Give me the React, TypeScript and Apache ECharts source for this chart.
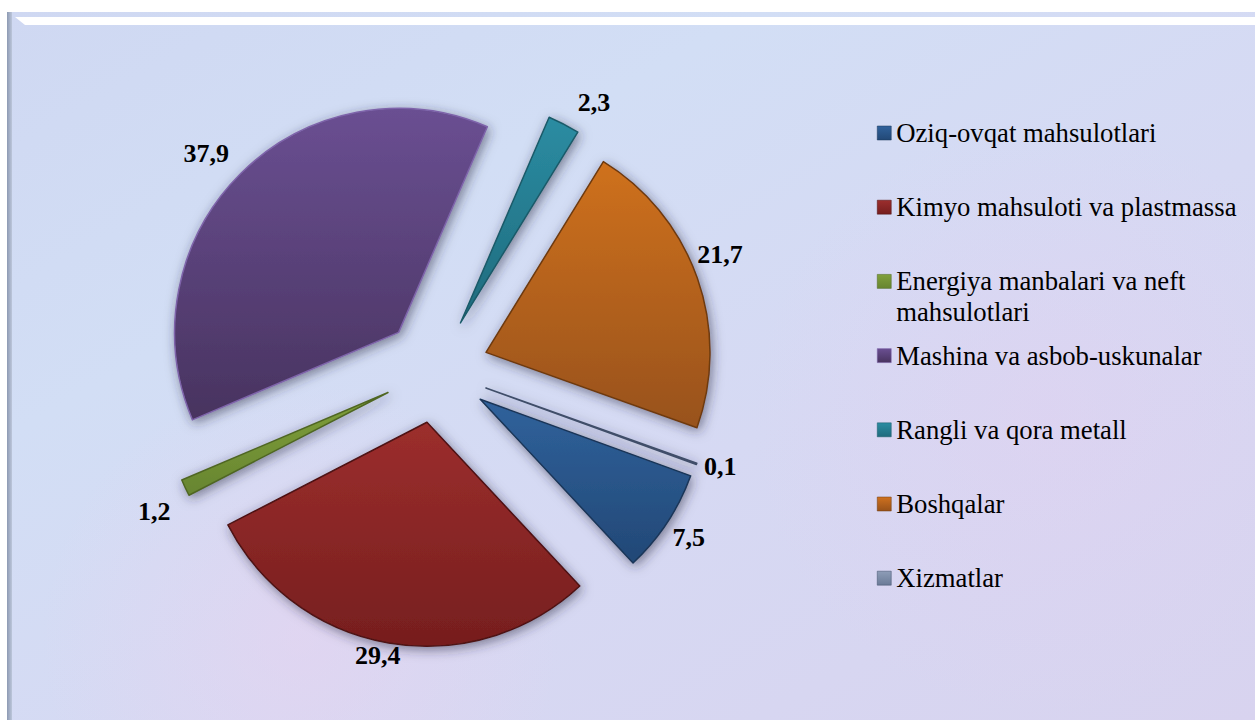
import React, { useEffect, useRef } from "react";
import * as echarts from "echarts";

// ---- data ----
const categories = [
  "Oziq-ovqat mahsulotlari",
  "Kimyo mahsuloti va plastmassa",
  "Energiya manbalari va neft mahsulotlari",
  "Mashina va asbob-uskunalar",
  "Rangli va qora metall",
  "Boshqalar",
  "Xizmatlar",
];
const legendLabels = [
  "Oziq-ovqat mahsulotlari",
  "Kimyo mahsuloti va plastmassa",
  "Energiya manbalari va neft\nmahsulotlari",
  "Mashina va asbob-uskunalar",
  "Rangli va qora metall",
  "Boshqalar",
  "Xizmatlar",
];
const shares = [7.5, 29.4, 1.2, 37.9, 2.3, 21.7, 0.1];

// ---- styles ----
const colorTop = ["#30629c", "#9c2e2d", "#80a03b", "#6a4f92", "#2b8ca2", "#cf711f", "#8e9db7"];
const colorBottom = ["#224876", "#761e1e", "#678530", "#48335f", "#1f6b7d", "#98521a", "#6b7b97"];
const borderCols = ["#1a3658", "#4e1212", "#4f6623", "#7e64aa", "#1a5a69", "#6e3a0f", "#3f4e69"];
// label nudges (label line lengths, line hidden)
const labelLen = [27, 13, 55, 28, 24, 71, 9];
const labelLen2 = [-22, -19, -40, -13, -2, -72, -6];

const SERIF = "'Liberation Serif', 'Times New Roman', serif";
const LEGEND_FIRST = 133;
const LEGEND_STEP = 74.2;
const LEGEND_LH = 31;

export default function App() {
  const ref = useRef<HTMLDivElement>(null);

  useEffect(() => {
    if (!ref.current) return;
    const chart = echarts.init(ref.current, undefined, { renderer: "svg" });

    const maxLines = Math.max(...legendLabels.map((l) => l.split("\n").length));
    const fmtLegend = (i: number) => {
      const lbl = legendLabels[i];
      const k = lbl.split("\n").length;
      return "\n".repeat(maxLines - 1) + lbl + "\n".repeat(maxLines - k);
    };
    const totalLines = 2 * maxLines - 1;

    const data = categories.map((name, i) => {
      const style = {
        color: new echarts.graphic.LinearGradient(0, 0, 0, 1, [
          { offset: 0, color: colorTop[i] },
          { offset: 1, color: colorBottom[i] },
        ]),
        borderColor: borderCols[i],
        borderWidth: 1.5,
        shadowBlur: 12,
        shadowColor: "rgba(40,40,60,0.55)",
        shadowOffsetX: 2,
        shadowOffsetY: 3,
      };
      return {
        name,
        value: shares[i],
        selected: true,
        itemStyle: style,
        select: { itemStyle: style },
        labelLine: { show: false, length: labelLen[i], length2: labelLen2[i] },
      };
    });

    chart.setOption({
      animation: false,
      textStyle: { fontFamily: SERIF },
      graphic: [
        {
          type: "rect",
          z: -10,
          shape: { x: 7, y: 12, width: 1248, height: 708 },
          style: {
            fill: new echarts.graphic.LinearGradient(0, 0, 1, 1, [
              { offset: 0, color: "#cfd8f2" },
              { offset: 0.3, color: "#d2def5" },
              { offset: 0.6, color: "#d6d9f3" },
              { offset: 1, color: "#d8d3ef" },
            ]),
          },
        },
        {
          type: "circle",
          z: -9,
          shape: { cx: 300, cy: 640, r: 260 },
          style: {
            fill: new echarts.graphic.RadialGradient(0.5, 0.5, 0.5, [
              { offset: 0, color: "rgba(236,208,238,0.45)" },
              { offset: 1, color: "rgba(236,208,238,0)" },
            ]),
          },
        },
        {
          type: "circle",
          z: -9,
          shape: { cx: 1050, cy: 420, r: 300 },
          style: {
            fill: new echarts.graphic.RadialGradient(0.5, 0.5, 0.5, [
              { offset: 0, color: "rgba(228,206,240,0.4)" },
              { offset: 1, color: "rgba(228,206,240,0)" },
            ]),
          },
        },
        {
          type: "polygon",
          z: -8,
          shape: { points: [[15, 17], [1255, 17], [1255, 25], [25, 25]] },
          style: { fill: "#ffffff" },
        },
        {
          type: "rect",
          z: -8,
          shape: { x: 7, y: 12, width: 5, height: 708 },
          style: {
            fill: new echarts.graphic.LinearGradient(0, 0, 1, 0, [
              { offset: 0, color: "#8d9ab3" },
              { offset: 1, color: "#bcc6da" },
            ]),
          },
        },
      ],
      legend: categories.map((name, i) => ({
        data: [name],
        orient: "vertical",
        left: 877,
        top: LEGEND_FIRST + i * LEGEND_STEP - (totalLines * LEGEND_LH) / 2,
        padding: 0,
        icon: "rect",
        itemWidth: 14,
        itemHeight: 14,
        selectedMode: false,
        itemStyle: { borderWidth: 0.5, borderColor: borderCols[i], shadowBlur: 0 },
        formatter: () => fmtLegend(i),
        textStyle: {
          fontFamily: SERIF,
          fontSize: 26.7,
          lineHeight: LEGEND_LH,
          color: "#000",
        },
      })),
      series: [
        {
          type: "pie",
          center: [436, 370],
          radius: 224,
          startAngle: -20,
          clockwise: true,
          selectedMode: "multiple",
          selectedOffset: 53,
          avoidLabelOverlap: false,
          emphasis: { scale: false },
          label: {
            show: true,
            position: "outside",
            alignTo: "none",
            distanceToLabelLine: 5,
            formatter: (p: any) => String(p.value).replace(".", ","),
            fontFamily: SERIF,
            fontWeight: "bold",
            fontSize: 26,
            color: "#000",
          },
          labelLine: { show: false },
          data,
        },
      ],
    });

    return () => chart.dispose();
  }, []);

  return (
    <div
      ref={ref}
      style={{ position: "fixed", left: 0, top: 0, width: 1255, height: 720, background: "#fff" }}
    />
  );
}
